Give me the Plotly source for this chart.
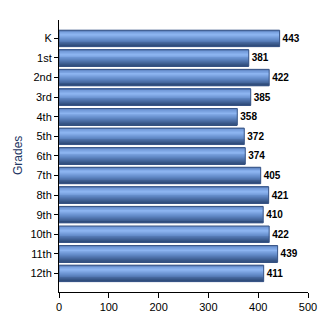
import plotly.graph_objects as go

grades = ["K", "1st", "2nd", "3rd", "4th", "5th", "6th", "7th", "8th", "9th", "10th", "11th", "12th"]
values = [443, 381, 422, 385, 358, 372, 374, 405, 421, 410, 422, 439, 411]
x_ticks = [0, 100, 200, 300, 400, 500]

BAR_W = 0.84
N = 18
stops = [(0.0, (78, 112, 168)), (0.12, (112, 152, 215)), (0.32, (142, 182, 242)),
         (0.6, (98, 138, 200)), (1.0, (44, 72, 118))]

def grad(t):
    for (t0, c0), (t1, c1) in zip(stops, stops[1:]):
        if t0 <= t <= t1:
            f = (t - t0) / (t1 - t0)
            return "rgb(%d,%d,%d)" % tuple(round(a + (b - a) * f) for a, b in zip(c0, c1))
    return "rgb(%d,%d,%d)" % stops[-1][1]

fig = go.Figure()
sw = BAR_W / N
for i in range(N):
    fig.add_trace(go.Bar(
        x=values, y=grades, orientation="h",
        width=sw * 1.05, offset=-BAR_W / 2 + i * sw,
        marker=dict(color=grad((i + 0.5) / N), line=dict(width=0)),
        hoverinfo="skip", showlegend=False,
    ))

fig.add_trace(go.Bar(
    x=values, y=grades, orientation="h", width=BAR_W,
    marker=dict(color="rgba(0,0,0,0)", line=dict(width=1, color="rgb(58,86,135)")),
    text=values, texttemplate="<b>%{text}</b>", textposition="outside",
    textfont=dict(size=10, color="black", family="Liberation Sans"),
    cliponaxis=False, showlegend=False,
))

fig.update_layout(
    width=330, height=330, barmode="overlay",
    margin=dict(l=59, r=22, t=20, b=38),
    paper_bgcolor="white", plot_bgcolor="white",
    font=dict(family="Liberation Sans", size=11, color="black"),
    showlegend=False,
    annotations=[dict(text="Grades", textangle=-90, xref="paper", yref="paper",
                      x=0, y=0.5, xanchor="center", yanchor="middle", xshift=-41,
                      showarrow=False, font=dict(size=12, color="rgb(31,56,100)"))],
)
fig.update_xaxes(range=[0, 500], tickvals=x_ticks, showgrid=False, zeroline=False,
                 showline=True, linecolor="black", linewidth=1,
                 ticks="outside", ticklen=5, tickcolor="black",
                 tickfont=dict(size=11, color="black"))
fig.update_yaxes(type="category", categoryorder="array", categoryarray=grades,
                 range=[12.95, -0.94], showgrid=False, zeroline=False,
                 showline=True, linecolor="black", linewidth=1,
                 ticks="outside", ticklen=4, tickcolor="black",
                 tickfont=dict(size=11, color="black"))

fig.write_html("out.html")
